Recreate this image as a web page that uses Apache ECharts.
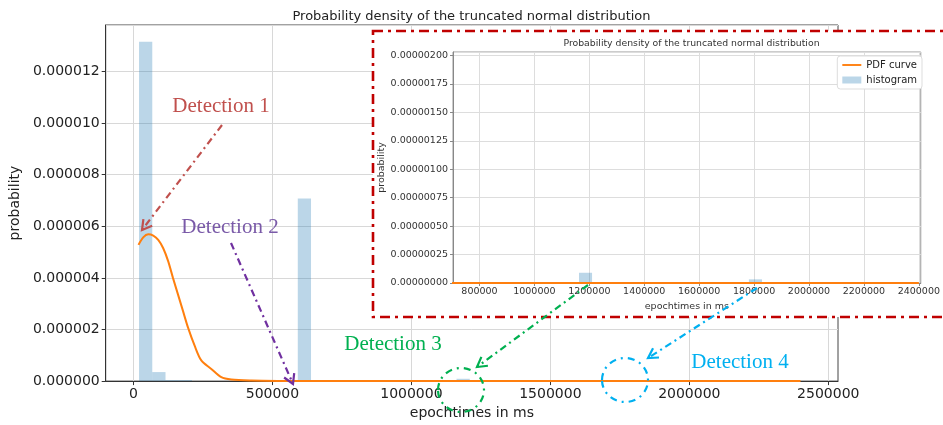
<!DOCTYPE html>
<html><head><meta charset="utf-8">
<script src="https://cdn.jsdelivr.net/npm/echarts@6/dist/echarts.min.js"></script>
<style>html,body{margin:0;padding:0;background:#fff}#c{width:943px;height:425px}</style>
</head><body><div id="c"></div>
<script>
// ---- data ----
const pdfX = [18000, 35000, 53000, 71000, 89000, 107000, 125000, 142000, 160000, 178000, 196000, 220000, 244000, 280000, 316000, 352000, 424000, 520000, 700000, 1000000, 1500000, 2000000, 2400000];
const pdfY = [5.28e-6, 5.57e-6, 5.69e-6, 5.64e-6, 5.47e-6, 5.15e-6, 4.64e-6, 4.0e-6, 3.36e-6, 2.72e-6, 2.08e-6, 1.37e-6, 0.80e-6, 0.47e-6, 0.15e-6, 0.06e-6, 0.02e-6, 0.006e-6, 0.001e-6, 0, 0, 0, 0];
const binWidth = 47600;
const histStart = [20000, 67600, 115200, 162800, 591200, 1162400, 1781200];
const histValue = [13.15e-6, 0.35e-6, 0.04e-6, 0.04e-6, 7.08e-6, 0.09e-6, 0.032e-6];
const mainXTicks = [0, 500000, 1000000, 1500000, 2000000, 2500000];
const insetXTicks = [800000, 1000000, 1200000, 1400000, 1600000, 1800000, 2000000, 2200000, 2400000];
const titleText = 'Probability density of the truncated normal distribution';

// ---- build ----
const FONT = 'DejaVu Sans';
const ORANGE = '#ff7f0e';
const HIST = 'rgba(31,119,180,0.3)';
const pdfData = pdfX.map((x, i) => [x, pdfY[i]]);
const histData = histStart.map((s, i) => [s, s + binWidth, histValue[i]]);

function histRender(params, api) {
  const p0 = api.coord([api.value(0), api.value(2)]);
  const p1 = api.coord([api.value(1), 0]);
  const cs = params.coordSys;
  const r = echarts.graphic.clipRectByRect(
    {x: p0[0], y: p0[1], width: p1[0] - p0[0], height: p1[1] - p0[1]},
    {x: cs.x, y: cs.y, width: cs.width, height: cs.height});
  if (!r) return;
  return {type: 'rect', shape: r, style: {fill: HIST}};
}

function arrow(x1, y1, x2, y2, color, dash) {
  const ang = Math.atan2(y2 - y1, x2 - x1), L = 11, a = Math.PI / 6;
  const p1 = [x2 - L * Math.cos(ang - a), y2 - L * Math.sin(ang - a)];
  const p2 = [x2 - L * Math.cos(ang + a), y2 - L * Math.sin(ang + a)];
  return [
    {type: 'line', z: 60, shape: {x1, y1, x2, y2}, style: {stroke: color, lineWidth: 2.2, lineDash: dash}},
    {type: 'polyline', z: 60, shape: {points: [p1, [x2, y2], p2]}, style: {stroke: color, lineWidth: 2.2, fill: 'none'}}
  ];
}
function label(txt, x, y, color) {
  return {type: 'text', z: 60, x, y, style: {text: txt, fill: color, font: '21px "Liberation Serif"', align: 'center', verticalAlign: 'middle'}};
}
function ell(cx, cy, rx, ry, color) {
  return {type: 'ellipse', z: 60, shape: {cx, cy, rx, ry}, style: {stroke: color, fill: 'none', lineWidth: 2.2, lineDash: [7, 5, 2, 5]}};
}

const chart = echarts.init(document.getElementById('c'), null, {renderer: 'canvas'});
const option = {
  animation: false,
  backgroundColor: '#fff',
  textStyle: {fontFamily: FONT},
  title: {text: titleText, left: 'center', top: 5, textStyle: {fontSize: 13, fontWeight: 'normal', color: '#222', fontFamily: FONT}},
  legend: {
    data: [{name: 'PDF curve', icon: 'path://M0,0H20V2H0Z'}, {name: 'histogram', icon: 'rect'}],
    orient: 'vertical', right: 21, top: 56, z: 12,
    itemWidth: 19, itemHeight: 7, itemGap: 5,
    textStyle: {fontSize: 10, color: '#222', fontFamily: FONT},
    backgroundColor: '#fff', borderColor: '#ddd', borderWidth: 1, borderRadius: 3, padding: [4, 5]
  },
  grid: [
    {left: 104, right: 105, top: 25, bottom: 41, show: true, borderColor: '#444', borderWidth: 1, backgroundColor: 'transparent'},
    {left: 453, width: 477, top: 52, height: 231, show: true, borderColor: '#999', borderWidth: 1, backgroundColor: '#fff', z: 10}
  ],
  xAxis: [
    {type: 'value', gridIndex: 0, min: -100000, max: 2535000,
     axisLine: {onZero: false, lineStyle: {color: '#333'}},
     axisTick: {customValues: mainXTicks, length: 4, lineStyle: {color: '#333'}},
     axisLabel: {customValues: mainXTicks, fontSize: 14, color: '#222', margin: 6, formatter: v => String(v)},
     splitLine: {show: true, lineStyle: {color: '#d8d8d8', width: 1}},
     name: 'epochtimes in ms', nameLocation: 'middle', nameGap: 19, nameTextStyle: {fontSize: 14, color: '#222'}},
    {type: 'value', gridIndex: 1, min: 703600, max: 2407000, z: 10,
     axisLine: {onZero: false, lineStyle: {color: '#888'}},
     axisTick: {customValues: insetXTicks, length: 3, lineStyle: {color: '#888'}},
     axisLabel: {customValues: insetXTicks, fontSize: 9.5, color: '#333', margin: 4, formatter: v => String(v)},
     splitLine: {show: true, lineStyle: {color: '#ddd', width: 1}},
     name: 'epochtimes in ms', nameLocation: 'middle', nameGap: 16, nameTextStyle: {fontSize: 9.5, color: '#333'}}
  ],
  yAxis: [
    {type: 'value', gridIndex: 0, min: 0, max: 1.38e-5, interval: 2e-6,
     axisLine: {show: true, onZero: false, lineStyle: {color: '#333'}},
     axisTick: {show: true, length: 4, lineStyle: {color: '#333'}},
     axisLabel: {fontSize: 14, color: '#222', margin: 6, showMaxLabel: false, formatter: v => v.toFixed(6)},
     splitLine: {show: true, lineStyle: {color: '#d8d8d8', width: 1}},
     name: 'probability', nameLocation: 'middle', nameGap: 73, nameTextStyle: {fontSize: 14, color: '#222'}},
    {type: 'value', gridIndex: 1, min: 0, max: 2.03e-6, interval: 2.5e-7, z: 10,
     axisLine: {show: true, onZero: false, lineStyle: {color: '#888'}},
     axisTick: {show: true, length: 3, lineStyle: {color: '#888'}},
     axisLabel: {fontSize: 9.5, color: '#333', margin: 5, showMaxLabel: false, formatter: v => v.toFixed(8)},
     splitLine: {show: true, lineStyle: {color: '#ddd', width: 1}},
     name: 'probability', nameLocation: 'middle', nameGap: 64, nameTextStyle: {fontSize: 9.5, color: '#333'}}
  ],
  series: [
    {name: 'histogram', type: 'custom', xAxisIndex: 0, yAxisIndex: 0, z: 2, renderItem: histRender, itemStyle: {color: HIST}, data: histData, encode: {x: [0, 1], y: 2}},
    {name: 'PDF curve', type: 'line', xAxisIndex: 0, yAxisIndex: 0, z: 3, symbol: 'none', smooth: 0.3, lineStyle: {color: ORANGE, width: 2}, itemStyle: {color: ORANGE}, data: pdfData},
    {name: 'histogram', type: 'custom', xAxisIndex: 1, yAxisIndex: 1, z: 11, renderItem: histRender, itemStyle: {color: HIST}, data: histData, encode: {x: [0, 1], y: 2}},
    {name: 'PDF curve', type: 'line', xAxisIndex: 1, yAxisIndex: 1, z: 11, symbol: 'none', smooth: 0.3, lineStyle: {color: ORANGE, width: 2}, itemStyle: {color: ORANGE}, data: pdfData}
  ],
  graphic: [
    {type: 'rect', z: 5, shape: {x: 373, y: 31, width: 590, height: 286}, style: {fill: '#fff', stroke: '#c00000', lineWidth: 2.6, lineDash: [10, 5, 3, 5]}},
    {type: 'text', z: 12, x: 691.5, y: 44, style: {text: titleText, fill: '#333', font: '9.3px "DejaVu Sans"', align: 'center', verticalAlign: 'middle'}},
    ...arrow(222, 125, 142, 230, '#c0504d', [7, 4, 2, 4]),
    label('Detection 1', 221, 106, '#c0504d'),
    ...arrow(231, 243, 293, 384, '#7030a0', [7, 4, 2, 4]),
    label('Detection 2', 230, 227, '#7a5aa8'),
    ...arrow(588, 285, 477, 367, '#00b050', [7, 4, 2, 4]),
    ell(461, 390, 23, 22, '#00b050'),
    label('Detection 3', 393, 344, '#00b050'),
    ...arrow(757, 288, 648, 358, '#00b0f0', [7, 4, 2, 4]),
    ell(625, 380, 23, 22, '#00b0f0'),
    label('Detection 4', 740, 362, '#00b0f0')
  ]
};
chart.setOption(option);
</script>
</body></html>
